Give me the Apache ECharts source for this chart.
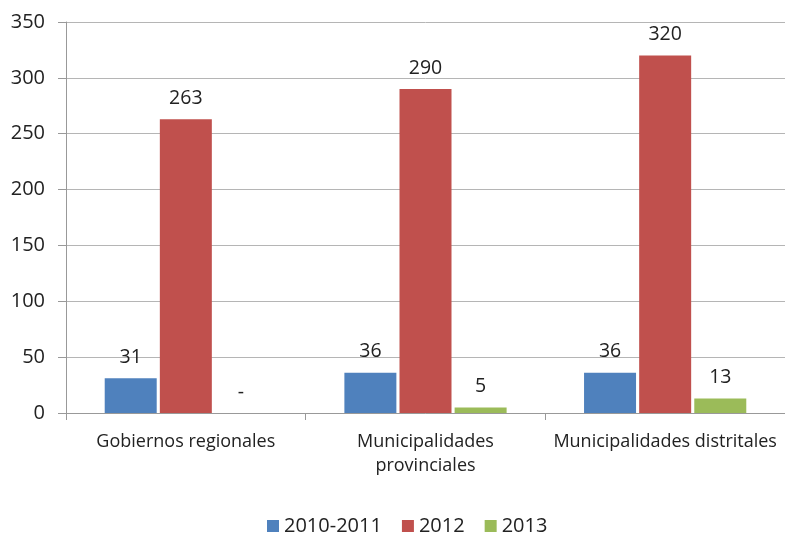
<!DOCTYPE html>
<html><head><meta charset="utf-8">
<script src="https://cdn.jsdelivr.net/npm/echarts@6/dist/echarts.min.js"></script>
<style>html,body{margin:0;padding:0;background:#fff}#c{width:785px;height:533px}</style>
</head><body><div id="c"></div>
<script>
const categories = ['Gobiernos regionales', 'Municipalidades\nprovinciales', 'Municipalidades distritales'];
const seriesNames = ['2010-2011', '2012', '2013'];
const values2010 = [31, 36, 36];
const values2012 = [263, 290, 320];
const values2013 = [0, 5, 13];
const yTicks = [0, 50, 100, 150, 200, 250, 300, 350];
const colors = ['#4F81BD', '#C0504D', '#9BBB59'];
const font = 'Open Sans';

const chart = echarts.init(document.getElementById('c'));
const mk = (name, data, color) => ({
  name, type: 'bar', data, barWidth: 52, barGap: '6%',
  itemStyle: { color },
  label: { show: true, position: 'top', distance: 11, fontFamily: font, fontSize: 19.5, color: '#222',
    formatter: p => p.value === 0 ? '-' : String(p.value) }
});
chart.setOption({
  animation: false,
  textStyle: { fontFamily: font },
  grid: { left: 66, top: 22, width: 724, bottom: 120 },
  legend: { left: 262, top: 511, itemWidth: 12, itemHeight: 12, itemGap: 20,
    textStyle: { fontFamily: font, fontSize: 20, color: '#222' }, icon: 'rect', data: seriesNames },
  xAxis: { type: 'category', data: categories,
    axisLine: { lineStyle: { color: '#999' } },
    axisTick: { show: true, length: 7, lineStyle: { color: '#999' } },
    axisLabel: { fontFamily: font, fontSize: 18, color: '#222', margin: 17, lineHeight: 24, interval: 0 } },
  yAxis: { type: 'value', min: 0, max: 350, interval: 50,
    axisLine: { show: true, lineStyle: { color: '#999' } },
    axisTick: { show: true, length: 8, lineStyle: { color: '#999' } },
    splitLine: { lineStyle: { color: '#b5b5b5' } },
    axisLabel: { fontFamily: font, fontSize: 20, color: '#222', margin: 21,
      formatter: v => yTicks.includes(v) ? String(v) : '' } },
  series: [mk(seriesNames[0], values2010, colors[0]), mk(seriesNames[1], values2012, colors[1]), mk(seriesNames[2], values2013, colors[2])]
});
</script></body></html>
